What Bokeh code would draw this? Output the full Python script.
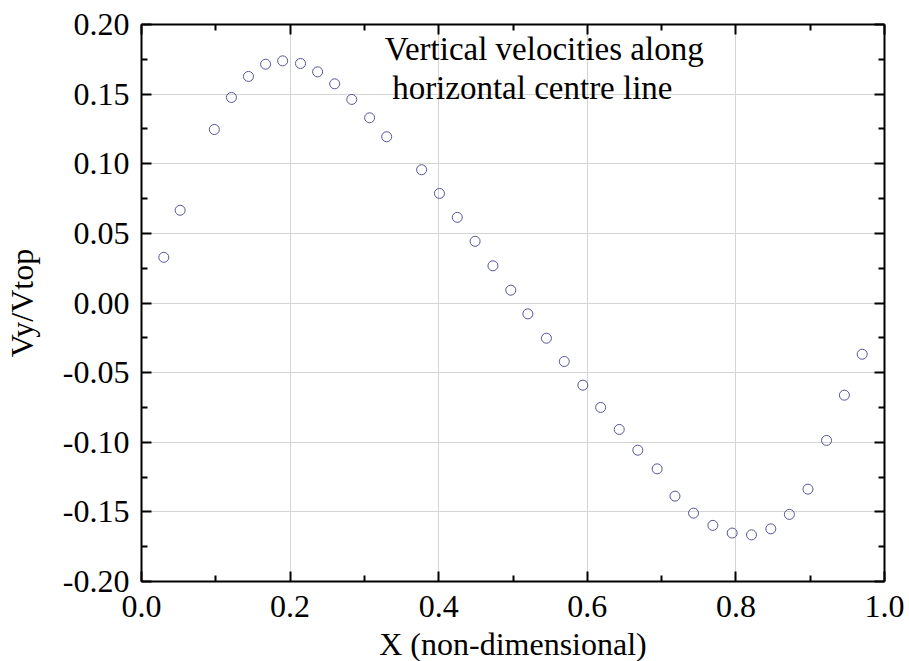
from bokeh.plotting import figure
from bokeh.models import (Range1d, FixedTicker, NumeralTickFormatter, LinearAxis, Label)
from bokeh.embed import file_html
from bokeh.resources import INLINE

# Data
x_vals = [0.030, 0.052, 0.098, 0.121, 0.144, 0.167, 0.190, 0.214,
          0.237, 0.260, 0.283, 0.307, 0.330,
          0.377, 0.401, 0.425, 0.449, 0.473,
          0.497, 0.520, 0.545, 0.569, 0.594, 0.618,
          0.643, 0.668, 0.694, 0.718,
          0.743, 0.769, 0.795, 0.821, 0.847, 0.872, 0.897,
          0.922, 0.946, 0.970]
vy_vals = [0.0328, 0.0666, 0.1246, 0.1476, 0.1627, 0.1715, 0.1739, 0.1720,
           0.1660, 0.1574, 0.1462, 0.1330, 0.1194,
           0.0957, 0.0787, 0.0615, 0.0443, 0.0267,
           0.0092, -0.0078, -0.0253, -0.0420, -0.0590, -0.0750,
           -0.0908, -0.1057, -0.1191, -0.1387,
           -0.1509, -0.1597, -0.1652, -0.1665, -0.1622, -0.1518, -0.1337,
           -0.0987, -0.0662, -0.0368]

x_ticks = [0.0, 0.2, 0.4, 0.6, 0.8, 1.0]
x_minor = [0.1, 0.3, 0.5, 0.7, 0.9]
y_ticks = [-0.20, -0.15, -0.10, -0.05, 0.00, 0.05, 0.10, 0.15, 0.20]
y_minor = [-0.175, -0.125, -0.075, -0.025, 0.025, 0.075, 0.125, 0.175]

title_lines = ["Vertical velocities along", "horizontal centre line"]
x_label = "X (non-dimensional)"
y_label = "Vy/Vtop"

FONT = "'Liberation Serif', 'Times New Roman', serif"
FS = "32px"

p = figure(frame_width=743, frame_height=557,
           x_range=Range1d(0, 1), y_range=Range1d(-0.2, 0.2),
           output_backend="svg", toolbar_location=None,
           min_border_left=140, min_border_right=25,
           min_border_top=24, min_border_bottom=80)
p.outline_line_color = None
p.background_fill_color = "white"
p.border_fill_color = "white"

xt = FixedTicker(ticks=x_ticks, minor_ticks=x_minor)
yt = FixedTicker(ticks=y_ticks, minor_ticks=y_minor)


def style_axis(ax, show_labels):
    ax.axis_line_width = 2
    ax.axis_line_color = "black"
    ax.major_tick_in = 10
    ax.major_tick_out = 0
    ax.minor_tick_in = 6
    ax.minor_tick_out = 0
    ax.major_tick_line_width = 2
    ax.minor_tick_line_width = 2
    ax.major_tick_line_color = "black"
    ax.minor_tick_line_color = "black"
    if show_labels:
        ax.major_label_text_font = FONT
        ax.major_label_text_font_size = FS
        ax.major_label_text_color = "black"
        ax.axis_label_text_font = FONT
        ax.axis_label_text_font_size = FS
        ax.axis_label_text_font_style = "normal"
        ax.axis_label_text_color = "black"
    else:
        ax.major_label_text_font_size = "0px"
        ax.major_label_text_color = None


xa = p.xaxis[0]
xa.ticker = xt
xa.formatter = NumeralTickFormatter(format="0.0")
xa.axis_label = x_label
style_axis(xa, True)
xa.major_label_standoff = 14
xa.axis_label_standoff = 6

ya = p.yaxis[0]
ya.ticker = yt
ya.formatter = NumeralTickFormatter(format="0.00")
ya.axis_label = y_label
style_axis(ya, True)
ya.major_label_standoff = 12
ya.axis_label_standoff = 20

top = LinearAxis(ticker=xt)
style_axis(top, False)
p.add_layout(top, "above")
right = LinearAxis(ticker=yt)
style_axis(right, False)
p.add_layout(right, "right")

p.xgrid.ticker = xt
p.ygrid.ticker = yt
p.xgrid.grid_line_color = "#d4d4d4"
p.ygrid.grid_line_color = "#d4d4d4"
p.xgrid.grid_line_width = 1
p.ygrid.grid_line_width = 1

p.scatter(x_vals, vy_vals, marker="circle", size=10,
          fill_color=None, line_color="#55559a", line_width=1)

p.add_layout(Label(x=0.542, y=0.1827, text=title_lines[0], text_align="center",
                   text_baseline="alphabetic", text_font=FONT, text_font_size="33px",
                   text_color="black"))
p.add_layout(Label(x=0.526, y=0.1546, text=title_lines[1], text_align="center",
                   text_baseline="alphabetic", text_font=FONT, text_font_size="33px",
                   text_color="black"))

open("out.html", "w").write(file_html(p, INLINE))
